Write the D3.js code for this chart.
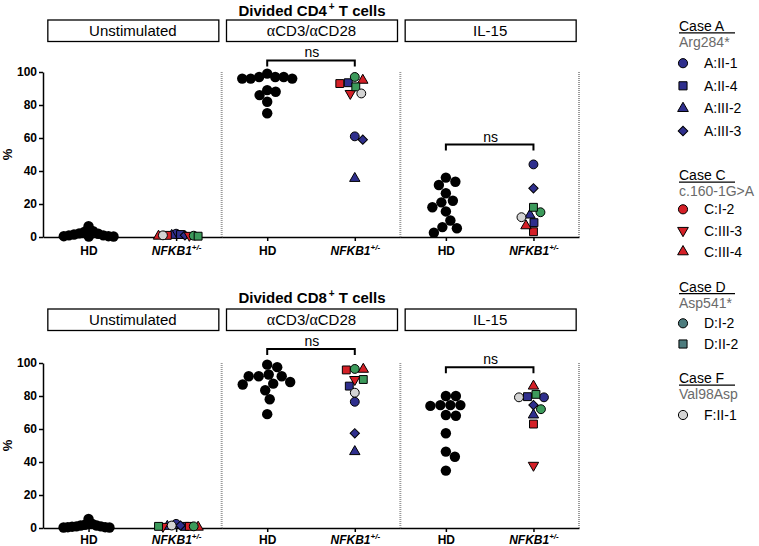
<!DOCTYPE html>
<html><head><meta charset="utf-8">
<script src="https://cdn.jsdelivr.net/npm/d3@7"></script>
<style>body{margin:0;background:#fff} svg{display:block;font-family:"Liberation Sans",Arial,sans-serif}</style>
</head><body><svg id="c" width="759" height="546"></svg>
<script>
// ---------- DATA ----------
const panels = ["Unstimulated", "αCD3/αCD28", "IL-15"];
const groups = ["HD", "NFKB1"];
const yTicks = [0, 20, 40, 60, 80, 100];
const patients = ["A:II-1","A:II-4","A:III-2","A:III-3","C:I-2","C:III-3","C:III-4","D:I-2","D:II-2","F:II-1"];
const caseTitles = ["Case A","Case C","Case D","Case F"];
const caseSubs = ["Arg284*","c.160-1G>A","Asp541*","Val98Asp"];

// CD4 healthy donors (%)
const cd4HD_unstim = [6.5, 3.5, 2.2, 1.5, 1, 0.5, 0.3, 0.3, 0.5, 1, 2, 3];
const cd4HD_cd3 = [99, 97, 97, 97, 96, 96, 96, 89, 88, 86, 82, 75];
const cd4HD_il15 = [36, 33.5, 31.5, 26.5, 22, 21, 18, 15.5, 10, 6, 5.3, 2.6];
// CD4 NFKB1+/- patients (order of `patients`)
const cd4NF_unstim = [2, 1.5, 1, 1, 1, 1, 0.5, 0.8, 0.5, 1];
const cd4NF_cd3 = [61, 93.5, 35.5, 59, 93, 87, 95, 97, 91, 87];
const cd4NF_il15 = [44, 8.7, 13.3, 29.5, 3.2, null, 6.8, 15, 18, 12];
// CD8 healthy donors
const cd8HD_unstim = [5.5, 2.5, 1.5, 1, 0.5, 0.3, 0.3, 0.5, 0.8, 1, 1.5, 2];
const cd8HD_cd3 = [99, 97.5, 93, 92, 92, 92, 88.5, 87.5, 87, 83.5, 78, 69];
const cd8HD_il15 = [80, 80, 74.5, 74.5, 74, 74.5, 68.5, 68, 57.4, 46.3, 43.2, 34.8];
// CD8 NFKB1+/- patients
const cd8NF_unstim = [2.5, 1, 1, 1.5, 1, 1, 0.5, 1, 1, 1.5];
const cd8NF_cd3 = [76.5, 86, 46.3, 57.4, 95.8, 90, 96.2, 96.4, 90, 82];
const cd8NF_il15 = [79.2, 79.6, 68.5, 74.5, 63, 38, 86, 72, 81, 79.2];
// "ns" bracket heights (% units), per panel
const cd4NS = [null, 107, 56];
const cd8NS = [null, 108.5, 97.5];

// ---------- STYLE ----------
const BLUE = "#2f2f8d", RED = "#d42027", GREEN = "#3c9a5b", GREY = "#d4d4d4", TEAL = "#4d7c7e";
const chartShape = ["circle","square","triangle","diamond","square","tridown","triangle","circle","square","circle"];
const chartColor = [BLUE,BLUE,BLUE,BLUE,RED,RED,RED,GREEN,GREEN,GREY];
const legendShape = ["circle","square","triangle","diamond","circle","tridown","triangle","circle","square","circle"];
const legendColor = [BLUE,BLUE,BLUE,BLUE,RED,RED,RED,TEAL,TEAL,GREY];

const svg = d3.select("#c");
const X0 = 43, X1 = 579;
const px = d3.scaleBand().domain(panels).range([X0, X1]).paddingInner(0).paddingOuter(0);
const bw = px.bandwidth();
const gx = d3.scalePoint().domain(groups).range([0, bw]).padding(0.52);

const rows = [
  { title: "Divided CD4", hd: [cd4HD_unstim, cd4HD_cd3, cd4HD_il15], nf: [cd4NF_unstim, cd4NF_cd3, cd4NF_il15], ns: cd4NS, yTop: 72, yBot: 237, titleY: 15.5, boxY: 20, pad: 5 },
  { title: "Divided CD8", hd: [cd8HD_unstim, cd8HD_cd3, cd8HD_il15], nf: [cd8NF_unstim, cd8NF_cd3, cd8NF_il15], ns: cd8NS, yTop: 363, yBot: 528, titleY: 302.5, boxY: 309, pad: 3 }
];

function symPath(shape, size) {
  if (shape === "circle") return d3.symbol().type(d3.symbolCircle).size(size)();
  if (shape === "square" || shape === "diamond") return d3.symbol().type(d3.symbolSquare).size(shape === "diamond" ? size * 0.7 : size)();
  return d3.symbol().type(d3.symbolTriangle).size(size * 0.75)();
}
function symRot(shape) { return shape === "tridown" ? 180 : shape === "diamond" ? 45 : 0; }

function swarm(vals, y, D, maxHalf) {
  const idx = vals.map((v, i) => i).filter(i => vals[i] != null).sort((a, b) => vals[b] - vals[a]);
  const off = vals.map(() => 0);
  const placed = [];
  for (const i of idx) {
    const yy = y(vals[i]);
    let cand = 0;
    for (let k = 0; k < 1000; k++) {
      cand = (k % 2 === 1 ? 1 : -1) * Math.ceil(k / 2) * 0.5;
      if (placed.every(p => (p.x - cand) ** 2 + (p.y - yy) ** 2 >= D * D)) break;
    }
    off[i] = cand; placed.push({ x: cand, y: yy });
  }
  const m = d3.max(off, Math.abs) || 0;
  if (m > maxHalf) return off.map(o => o * maxHalf / m);
  return off;
}

rows.forEach(row => {
  const y = d3.scaleLinear().domain([0, 100]).range([row.yBot, row.yTop]);
  const g = svg.append("g");

  // title
  const t = g.append("text").attr("x", 312).attr("y", row.titleY).attr("text-anchor", "middle")
    .attr("font-size", 15).attr("font-weight", "bold");
  t.append("tspan").text(row.title);
  t.append("tspan").attr("font-size", 10).attr("dy", -6).attr("dx", 2).text("+");
  t.append("tspan").attr("dy", 6).text(" T cells");

  // y label
  g.append("text").attr("transform", `translate(12,${(row.yTop + row.yBot) / 2}) rotate(-90)`)
    .attr("text-anchor", "middle").attr("font-size", 13).attr("font-weight", "bold").text("%");

  // y axis
  const ya = g.append("g").attr("transform", `translate(${X0},0)`)
    .call(d3.axisLeft(y).tickValues(yTicks).tickSize(4).tickSizeOuter(0).tickPadding(2));
  ya.selectAll("text").attr("font-size", 12).attr("font-weight", "bold").attr("fill", "#000").attr("font-family", "Liberation Sans, Arial, sans-serif");
  ya.selectAll("path,line").attr("stroke", "#000").attr("stroke-width", 1.5);

  panels.forEach((p, pi) => {
    const x0 = px(p);
    const pg = g.append("g").attr("transform", `translate(${x0},0)`);

    // header box
    pg.append("rect").attr("x", bw / 2 - 85 + 0.5).attr("y", row.boxY).attr("width", 171).attr("height", 21.5)
      .attr("fill", "#fff").attr("stroke", "#000").attr("stroke-width", 1.3);
    const ht = pg.append("text").attr("x", bw / 2 + 0.5).attr("y", row.boxY + 16.3).attr("text-anchor", "middle").attr("font-size", 15);
    p.split(/(α)/).filter(s => s).forEach(s => {
      ht.append("tspan").attr("font-family", s === "α" ? "Liberation Serif, serif" : null)
        .attr("font-size", s === "α" ? 16 : null).text(s);
    });

    // x axis
    const xa = pg.append("g").attr("transform", `translate(0,${row.yBot})`)
      .call(d3.axisBottom(gx).tickSize(4).tickSizeOuter(0).tickPadding(row.pad));
    xa.selectAll("path,line").attr("stroke", "#000").attr("stroke-width", 1.5);
    xa.selectAll(".tick text").attr("font-size", 12).attr("font-weight", "bold").attr("fill", "#000")
      .attr("font-family", "Liberation Sans, Arial, sans-serif")
      .each(function (d) {
        if (d === "NFKB1") {
          const s = d3.select(this); s.text("");
          s.append("tspan").attr("font-style", "italic").text("NFKB1");
          s.append("tspan").attr("font-style", "italic").attr("font-size", 8).attr("dy", "-0.55em").text("+/-");
        }
      });

    // dotted separator
    pg.append("line").attr("x1", bw).attr("x2", bw).attr("y1", row.yTop).attr("y2", row.yBot)
      .attr("stroke", "#9a9a9a").attr("stroke-width", 2).attr("stroke-dasharray", "1,1");

    // HD points
    const hd = row.hd[pi];
    const hOff = swarm(hd, y, 10, 25);
    pg.selectAll(".hd").data(hd).enter().append("circle")
      .attr("cx", (d, i) => gx("HD") + hOff[i]).attr("cy", d => y(d)).attr("r", 5.2).attr("fill", "#000");

    // NFKB1 points
    const nf = row.nf[pi];
    const nOff = swarm(nf, y, 8.5, 22);
    pg.selectAll(".nf").data(nf.map((v, i) => ({ v, i }))).enter().filter(d => d.v != null).append("path")
      .attr("d", d => symPath(chartShape[d.i], 62))
      .attr("transform", d => `translate(${gx("NFKB1") + nOff[d.i]},${y(d.v)}) rotate(${symRot(chartShape[d.i])})`)
      .attr("fill", d => chartColor[d.i]).attr("stroke", "#000").attr("stroke-width", 1);

    // ns bracket
    const nsv = row.ns[pi];
    if (nsv != null) {
      const by = y(nsv), xa1 = gx("HD"), xa2 = gx("NFKB1");
      pg.append("path").attr("d", `M${xa1},${by + 6}V${by}H${xa2}V${by + 6}`)
        .attr("fill", "none").attr("stroke", "#000").attr("stroke-width", 2);
      pg.append("text").attr("x", (xa1 + xa2) / 2 + 1).attr("y", by - 3).attr("text-anchor", "middle")
        .attr("font-size", 14).text("ns");
    }
  });
});

// ---------- LEGEND ----------
const LX = 679, MX = 683, TX = 704;
const secY = [30.7, 180, 291.5, 383];
const firstRow = [63.2, 209.3, 323.3, 415];
const rowStep = [22.6, 21.2, 20.7, 21];
const lg = svg.append("g");
caseTitles.forEach((ct, ci) => {
  lg.append("text").attr("x", LX).attr("y", secY[ci]).attr("font-size", 14).text(ct);
  lg.append("line").attr("x1", LX).attr("x2", 735).attr("y1", secY[ci] + 2.2).attr("y2", secY[ci] + 2.2)
    .attr("stroke", "#000").attr("stroke-width", 1.2);
  lg.append("text").attr("x", LX).attr("y", secY[ci] + 16).attr("font-size", 14).attr("fill", "#6a6a6a").text(caseSubs[ci]);
  const members = patients.map((p, i) => i).filter(i => patients[i][0] === ct.slice(-1));
  members.forEach((pi, k) => {
    const yy = firstRow[ci] + k * rowStep[ci];
    lg.append("path").attr("d", symPath(legendShape[pi], 66))
      .attr("transform", `translate(${MX},${yy}) rotate(${symRot(legendShape[pi])})`)
      .attr("fill", legendColor[pi]).attr("stroke", "#000").attr("stroke-width", 1);
    lg.append("text").attr("x", TX).attr("y", yy + 5).attr("font-size", 14).text(patients[pi]);
  });
});
</script></body></html>
